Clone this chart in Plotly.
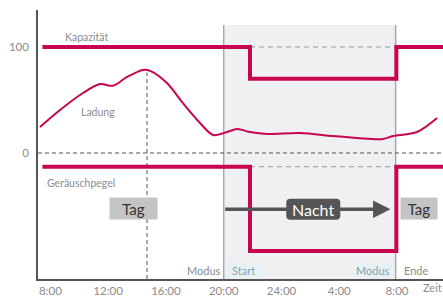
import plotly.graph_objects as go

# ---- data (hours after 8:00) ----
ladung_h = [-0.72, 0.67, 2.26, 3.44, 4.34, 5.31, 6.41, 6.90, 8.07, 9.18, 10.36, 11.26,
            12.23, 12.92, 13.82, 15.0, 17.28, 19.57, 21.23, 23.03, 23.72, 25.38, 26.77]
ladung_v = [24.5, 40.6, 56.6, 65, 63.5, 71.7, 78.3, 77.4, 66, 47, 28.3, 17,
            19.8, 22.6, 19.8, 18, 18.9, 16, 14.2, 13.2, 16, 19.8, 33]

kap_h = [-0.55, 13.82, 23.95, 27.3]
kap_v = [100, 70, 100, 100]

laerm_h = [-0.55, 13.82, 23.95, 27.3]
laerm_v = [-13, -92.5, -13, -13]

night_start, night_end = 12, 23.9
tag_marker = 6.69

tick_vals = [0, 4, 8, 12, 16, 20, 24]
tick_text = ["8:00", "12:00", "16:00", "20:00", "24:00", "4:00", "8:00"]

MAG = "#c7064f"
GRAY = "#8c8c8c"
FONT = "Lato"

XR = [-0.855, 27.18]
YR = [-118.9, 134.9]

fig = go.Figure()

# shading night
fig.add_shape(type="rect", x0=night_start, x1=night_end, y0=YR[0], y1=120.8,
              fillcolor="#eff0f2", line_width=0, layer="below")
for xv in (night_start, night_end):
    fig.add_shape(type="line", x0=xv, x1=xv, y0=YR[0], y1=120.8,
                  line=dict(color="#a9a9a9", width=1.5), layer="below")

# dashed zero line
fig.add_shape(type="line", x0=XR[0], x1=XR[1], y0=0, y1=0,
              line=dict(color="#555", width=1, dash="4px,3px"), layer="below")
# dashed reference lines in night
fig.add_shape(type="line", x0=kap_h[1], x1=kap_h[2], y0=100, y1=100,
              line=dict(color="#999", width=1.2, dash="5px,4px"), layer="below")
fig.add_shape(type="line", x0=laerm_h[1], x1=laerm_h[2], y0=-13, y1=-13,
              line=dict(color="#999", width=1.2, dash="5px,4px"), layer="below")
# dashed vertical day marker
fig.add_shape(type="line", x0=tag_marker, x1=tag_marker, y0=YR[0], y1=76,
              line=dict(color="#555", width=1, dash="4px,3px"), layer="below")

# Modus/Start boxes
fig.add_shape(type="rect", x0=12.2, x1=14.65, y0=-117, y1=-104,
              fillcolor="#e6f1f6", line_width=0, layer="below")
fig.add_shape(type="rect", x0=21.1, x1=23.6, y0=-117, y1=-104,
              fillcolor="#e6f1f6", line_width=0, layer="below")

fig.add_trace(go.Scatter(x=ladung_h, y=ladung_v, mode="lines",
                         line=dict(color=MAG, width=2, shape="spline", smoothing=0.9),
                         hoverinfo="skip"))
fig.add_trace(go.Scatter(x=kap_h, y=kap_v, mode="lines",
                         line=dict(color=MAG, width=4, shape="hv"), hoverinfo="skip"))
fig.add_trace(go.Scatter(x=laerm_h, y=laerm_v, mode="lines",
                         line=dict(color=MAG, width=4, shape="hv"), hoverinfo="skip"))

def txt(x, y, s, size=10.5, color=GRAY, **kw):
    fig.add_annotation(x=x, y=y, text=s, showarrow=False,
                       font=dict(family=FONT, size=size, color=color), **kw)

txt(2.5, 109, "Kapazität")
txt(3.3, 39, "Ladung")
txt(2.15, -28, "Geräuschpegel")
txt(11.95, -110.5, "Modus", size=11, xanchor="right")
txt(13.4, -110.5, "Start", size=11, color="#8aa2ab")
txt(22.35, -110.5, "Modus", size=11, color="#8aa2ab")
txt(25.3, -110.5, "Ende", size=11)
fig.add_annotation(x=1.0, y=-0.004, xref="paper", yref="paper", yanchor="top",
                   xanchor="right", text="Zeit", showarrow=False, borderpad=0,
                   font=dict(family=FONT, size=11, color=GRAY))

# arrow
fig.add_annotation(x=23.55, y=-53, ax=night_start, ay=-53, xref="x", yref="y",
                   axref="x", ayref="y", showarrow=True, arrowhead=2, arrowsize=1,
                   arrowwidth=3.5, arrowcolor="#555", text="")

fig.add_annotation(x=5.76, y=-52, text="Tag", showarrow=False, bgcolor="#c4c4c4",
                   font=dict(family=FONT, size=15, color="#333"), borderpad=1,
                   width=45, height=19)
fig.add_annotation(x=25.55, y=-52, text="Tag", showarrow=False, bgcolor="#c4c4c4",
                   font=dict(family=FONT, size=15, color="#333"), borderpad=1,
                   width=34, height=19)

# rounded "Nacht" box (pixel-sized, anchored in data)
w, h, r = 54, 21, 4
path = (f"M {-w/2+r},{-h/2} L {w/2-r},{-h/2} Q {w/2},{-h/2} {w/2},{-h/2+r} "
        f"L {w/2},{h/2-r} Q {w/2},{h/2} {w/2-r},{h/2} L {-w/2+r},{h/2} "
        f"Q {-w/2},{h/2} {-w/2},{h/2-r} L {-w/2},{-h/2+r} Q {-w/2},{-h/2} {-w/2+r},{-h/2} Z")
fig.add_shape(type="path", xsizemode="pixel", ysizemode="pixel", xanchor=18.2,
              yanchor=-53, path=path, fillcolor="#555", line_width=0)
txt(18.2, -53, "Nacht", size=16, color="white")

fig.update_layout(
    width=443, height=296,
    margin=dict(l=38, r=0, t=10, b=17),
    plot_bgcolor="white", paper_bgcolor="white",
    showlegend=False,
    xaxis=dict(range=XR, tickvals=tick_vals, ticktext=tick_text, showgrid=False,
               zeroline=False, showline=True, linecolor="#555", linewidth=1.5,
               ticks="", tickfont=dict(family=FONT, size=11.5, color=GRAY), fixedrange=True),
    yaxis=dict(range=YR, tickvals=[0, 100], ticktext=["0", "100"], showgrid=False,
               zeroline=False, showline=True, linecolor="#555", linewidth=1.5,
               ticks="", ticklabelstandoff=5,
               tickfont=dict(family=FONT, size=11.5, color=GRAY), fixedrange=True),
)

fig.write_html("out.html", config={"displayModeBar": False},
               post_script="document.body.style.margin='0';document.body.style.overflow='hidden';")
